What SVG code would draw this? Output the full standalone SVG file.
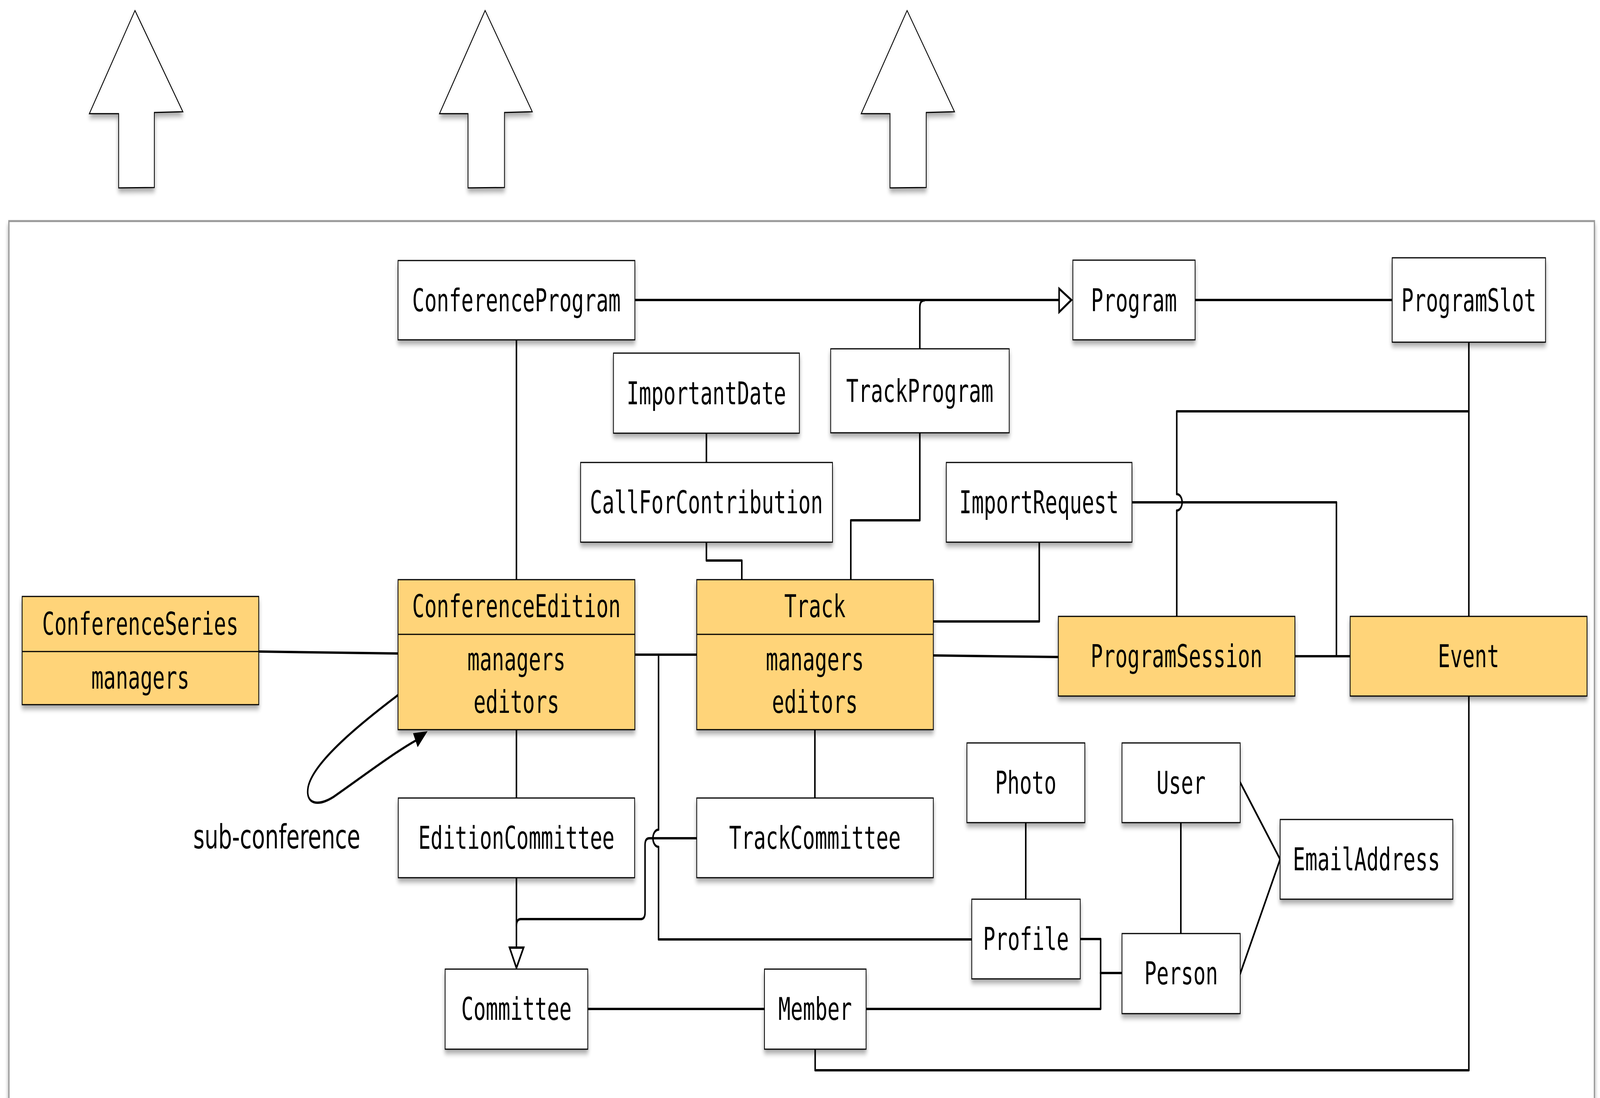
<svg xmlns="http://www.w3.org/2000/svg" width="6283" height="2811" viewBox="0 0 6283 2811" preserveAspectRatio="none">
<defs>
<filter id="sh" x="-10%" y="-10%" width="120%" height="140%">
<feGaussianBlur in="SourceAlpha" stdDeviation="7"/>
<feOffset dx="0" dy="10" result="b"/>
<feComponentTransfer><feFuncA type="linear" slope="0.35"/></feComponentTransfer>
<feMerge><feMergeNode/><feMergeNode in="SourceGraphic"/></feMerge>
</filter>
</defs>
<style>
:root{width:100vw;height:100vh}
.box{fill:#fff;stroke:#000;stroke-width:3}
.yel{fill:#FFD479;stroke:#000;stroke-width:3}
.t{font-family:"DejaVu Sans Mono",monospace;font-size:80px;text-anchor:middle;fill:#000}
.c{fill:none;stroke:#000;stroke-width:6;stroke-linejoin:round;stroke-linecap:round}
.big{fill:#fff;stroke:#000;stroke-width:3;filter:url(#sh)}
</style>
<rect width="6283" height="2811" fill="#fff"/>
<g id="arrows">
<polygon class="big" points="530,27 718,286 606,288 606,480 466,481 466,291 351,291"/>
<polygon class="big" points="1905,27 2090,286 1981,288 1981,480 1838,481 1838,291 1726,291"/>
<polygon class="big" points="3562,27 3748,286 3637,288 3637,480 3495,481 3495,291 3382,291"/>
</g>
<rect id="frame" x="35" y="566" width="6226" height="2400" fill="#fff" stroke="#999" stroke-width="5" filter="url(#sh)"/>
<g id="connectors">
<path class="c" d="M2493,768 L4159,768"/>
<polygon points="4159,739 4159,799 4207,768" fill="#fff" stroke="#000" stroke-width="6" stroke-linejoin="miter"/>
<path class="c" d="M3612,893 L3612,787 Q3612,769 3630,769"/>
<path class="c" d="M4693,768 L5467,768"/>
<path class="c" d="M2028,870 L2028,1484"/>
<path class="c" d="M2774,1109 L2774,1184"/>
<path class="c" d="M2774,1388 L2774,1435 L2913,1435 L2913,1484"/>
<path class="c" d="M3612,1109 L3612,1332 L3341,1332 L3341,1484"/>
<path class="c" d="M1016,1668 L1563,1673"/>
<path class="c" d="M2493,1676 L2736,1676"/>
<path class="c" d="M3665,1678 L4156,1682"/>
<path class="c" d="M3665,1591 L4081,1591 L4081,1388"/>
<path class="c" d="M5768,876 L5768,1578"/>
<path class="c" d="M5768,1053 L4621,1053 L4621,1265 A21,21 0 0 1 4621,1307 L4621,1578"/>
<path class="c" d="M4445,1286 L5248,1286 L5248,1680"/>
<path class="c" d="M5085,1680 L5302,1680"/>
<path class="c" d="M5768,1782 L5768,2740 L3201,2740 L3201,2686"/>
<path class="c" d="M2028,1868 L2028,2043"/>
<path class="c" d="M3200,1868 L3200,2043"/>
<path class="c" d="M2028,2247 L2028,2426"/>
<polygon points="2001,2426 2056,2426 2028,2478" fill="#fff" stroke="#000" stroke-width="6" stroke-linejoin="miter"/>
<path class="c" d="M2736,2146 L2550,2146 Q2533,2146 2533,2163 L2533,2336 Q2533,2353 2516,2353 L2045,2353 Q2028,2353 2028,2370"/>
<path class="c" d="M2586,1676 L2586,2124 A22,22 0 0 0 2586,2168 L2586,2405 L3816,2405"/>
<path class="c" d="M2308,2583 L3002,2583"/>
<path class="c" d="M3401,2583 L4322,2583 L4322,2404 L4242,2404"/>
<path class="c" d="M4322,2491 L4406,2491"/>
<path class="c" d="M4028,2106 L4028,2302"/>
<path class="c" d="M4637,2106 L4637,2390"/>
<path class="c" d="M4870,2003 L5027,2200 L4870,2493"/>
<path class="c" d="M1566,1778 C1420,1850 1230,1950 1210,2015 C1198,2060 1250,2065 1310,2040 C1420,1990 1540,1930 1635,1895"/>
<polygon points="1679,1872 1622,1877 1640,1913" fill="#000"/>
<text x="759" y="2172" font-family="DejaVu Sans, sans-serif" font-size="85">sub-conference</text>
</g>
<g id="ConferenceProgram" filter="url(#sh)"><rect class="box" x="1563" y="667" width="930" height="203"/><text class="t" x="2028" y="797">ConferenceProgram</text></g>
<g id="Program" filter="url(#sh)"><rect class="box" x="4213" y="666" width="480" height="204"/><text class="t" x="4453" y="797">Program</text></g>
<g id="ProgramSlot" filter="url(#sh)"><rect class="box" x="5467" y="660" width="602" height="216"/><text class="t" x="5768" y="797">ProgramSlot</text></g>
<g id="ImportantDate" filter="url(#sh)"><rect class="box" x="2409" y="904" width="730" height="205"/><text class="t" x="2774" y="1035">ImportantDate</text></g>
<g id="TrackProgram" filter="url(#sh)"><rect class="box" x="3262" y="893" width="701" height="215"/><text class="t" x="3612" y="1029">TrackProgram</text></g>
<g id="CallForContribution" filter="url(#sh)"><rect class="box" x="2280" y="1184" width="989" height="204"/><text class="t" x="2774" y="1314">CallForContribution</text></g>
<g id="ImportRequest" filter="url(#sh)"><rect class="box" x="3716" y="1184" width="729" height="204"/><text class="t" x="4080" y="1314">ImportRequest</text></g>
<g id="ConferenceSeries" filter="url(#sh)"><rect class="yel" x="87" y="1527" width="929" height="277"/><line x1="87" y1="1668" x2="1016" y2="1668" stroke="#000" stroke-width="3"/><text class="t" x="551" y="1625">ConferenceSeries</text><text class="t" x="551" y="1763">managers</text></g>
<g id="ConferenceEdition" filter="url(#sh)"><rect class="yel" x="1563" y="1484" width="930" height="384"/><line x1="1563" y1="1624" x2="2493" y2="1624" stroke="#000" stroke-width="3"/><text class="t" x="2028" y="1580">ConferenceEdition</text><text class="t" x="2028" y="1716">managers</text><text class="t" x="2028" y="1825">editors</text></g>
<g id="Track" filter="url(#sh)"><rect class="yel" x="2736" y="1484" width="929" height="384"/><line x1="2736" y1="1624" x2="3665" y2="1624" stroke="#000" stroke-width="3"/><text class="t" x="3200" y="1580">Track</text><text class="t" x="3200" y="1716">managers</text><text class="t" x="3200" y="1825">editors</text></g>
<g id="ProgramSession" filter="url(#sh)"><rect class="yel" x="4156" y="1578" width="929" height="204"/><text class="t" x="4620" y="1708">ProgramSession</text></g>
<g id="Event" filter="url(#sh)"><rect class="yel" x="5302" y="1578" width="930" height="204"/><text class="t" x="5767" y="1708">Event</text></g>
<g id="EditionCommittee" filter="url(#sh)"><rect class="box" x="1564" y="2043" width="928" height="204"/><text class="t" x="2028" y="2173">EditionCommittee</text></g>
<g id="TrackCommittee" filter="url(#sh)"><rect class="box" x="2736" y="2043" width="929" height="204"/><text class="t" x="3200" y="2173">TrackCommittee</text></g>
<g id="Photo" filter="url(#sh)"><rect class="box" x="3797" y="1902" width="463" height="204"/><text class="t" x="4028" y="2032">Photo</text></g>
<g id="User" filter="url(#sh)"><rect class="box" x="4406" y="1902" width="464" height="204"/><text class="t" x="4638" y="2032">User</text></g>
<g id="EmailAddress" filter="url(#sh)"><rect class="box" x="5027" y="2098" width="678" height="204"/><text class="t" x="5366" y="2228">EmailAddress</text></g>
<g id="Profile" filter="url(#sh)"><rect class="box" x="3816" y="2302" width="426" height="204"/><text class="t" x="4029" y="2432">Profile</text></g>
<g id="Person" filter="url(#sh)"><rect class="box" x="4406" y="2390" width="464" height="205"/><text class="t" x="4638" y="2520">Person</text></g>
<g id="Committee" filter="url(#sh)"><rect class="box" x="1748" y="2481" width="560" height="205"/><text class="t" x="2028" y="2611">Committee</text></g>
<g id="Member" filter="url(#sh)"><rect class="box" x="3002" y="2481" width="399" height="205"/><text class="t" x="3201" y="2611">Member</text></g>
</svg>
